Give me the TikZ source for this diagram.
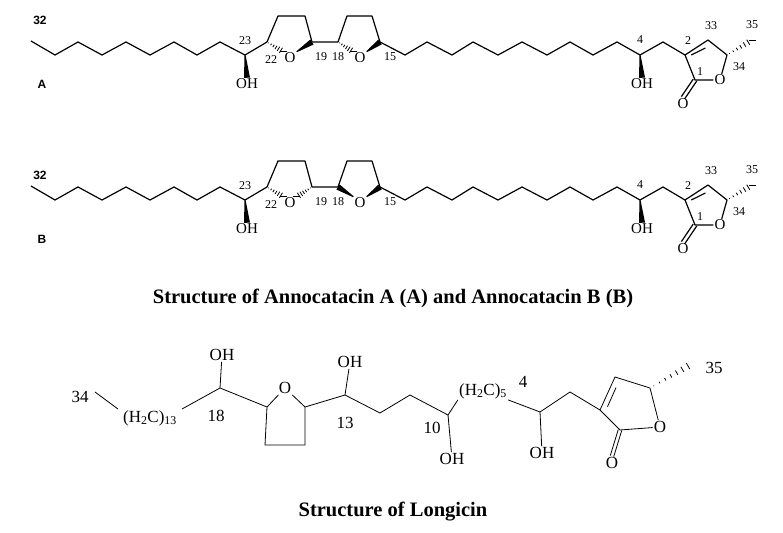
\documentclass[tikz,border=0pt]{standalone}
\usepackage{fontspec}
\setmainfont{Liberation Serif}
\setsansfont{Liberation Sans}
\usetikzlibrary{calc,positioning}
\tikzset{
  bond/.style={line width=1.2pt, line join=round},
  atom/.style={inner sep=1pt, font=\fontsize{15}{15}\selectfont},
  num/.style={inner sep=0pt, font=\fontsize{12}{12}\selectfont},
  lbl/.style={inner sep=0pt, font=\sffamily\bfseries\fontsize{12}{12}\selectfont},
  title/.style={inner sep=0pt, font=\bfseries\fontsize{20.5}{20.5}\selectfont}
}
% wedge and hash bonds
\newcommand\wedgeb[2]{\fill ($(#1)!0.5pt!90:(#2)$) -- ($(#1)!0.5pt!-90:(#2)$) -- ($(#2)!3pt!90:(#1)$) -- ($(#2)!3pt!-90:(#1)$) -- cycle;}
\newcommand\hashb[2]{\foreach \t in {0.1,0.25,...,1.0}{\draw[line width=0.8pt] ($($(#1)!\t!(#2)$)!{\t*3.5pt}!90:(#2)$) -- ($($(#1)!\t!(#2)$)!{\t*3.5pt}!-90:(#2)$);}}
\newcommand\annoskel{%
  \coordinate (c23) at (245,55); \coordinate (c22) at (267,42);
  \coordinate (c19) at (312,42); \coordinate (c18) at (338,42);
  \coordinate (c15) at (380,42); \coordinate (c4) at (640,55);
  \coordinate (c2) at (685,55); \coordinate (c33) at (708,40);
  \coordinate (c34) at (727,55); \coordinate (c1) at (695,80);
  \node[atom] (o1) at (290,58) {O};
  \node[atom] (o2) at (360,58) {O};
  \node[atom] (o3) at (720,80) {O};
  \node[atom] (o4) at (683,104) {O};
  \node[atom] (oh23) at (247,84) {OH};
  \node[atom] (oh4) at (642,84) {OH};
  \draw[bond] (31,41) -- (55,55) -- (78,42) -- (102,55) -- (126,42) -- (150,55)
    -- (174,42) -- (197,55) -- (220,42) -- (c23) -- (c22);
  \draw[bond] (c22) -- (278,16) -- (305,16) -- (c19) -- (c18) -- (347,16) -- (372,16) -- (c15);
  \draw[bond] (c15) -- (405,55) -- (427,42) -- (452,55) -- (473,42) -- (498,55) -- (522,42)
    -- (547,55) -- (570,42) -- (593,55) -- (617,42) -- (c4) -- (663,42) -- (c2);
  \draw[bond] (c2) -- (c33) -- (c34) -- (o3) -- (c1) -- (c2);
  \draw[bond] ($(c2)!0.15!(c34)$) -- ($(c33)!0.2!(c1)$);
  \draw[bond] ($(c1)!2pt!90:(o4)$) -- ($(o4.north)!2pt!-90:(c1)$);
  \draw[bond] ($(c1)!2pt!-90:(o4)$) -- ($(o4.north)!2pt!90:(c1)$);
  \wedgeb{c23}{oh23.north} \wedgeb{c4}{oh4.north}
  \hashb{c34}{752,40}
  \node[num] at (245,41) {23}; \node[num] at (271,60) {22};
  \node[num] at (321,57) {19}; \node[num] at (338,57) {18};
  \node[num] at (390,57) {15}; \node[num] at (640,40) {4};
  \node[num] at (688,41) {2}; \node[num] at (711,26) {33};
  \node[num] at (752,25) {35}; \node[num] at (739,67) {34};
  \node[num] at (700,72) {1};
}
\begin{document}
\begin{tikzpicture}[x=1pt,y=-1pt]
\useasboundingbox (0,0) rectangle (783,532);

% Annocatacin A
\annoskel
\node[lbl] at (40,20) {32};
\node[lbl] at (42,84) {A};
\hashb{c22}{o1.north west} \wedgeb{o1.north east}{c19}
\hashb{c18}{o2.north west} \wedgeb{o2.north east}{c15}

% Annocatacin B
\begin{scope}[yshift=-145pt]
\annoskel
\node[lbl] at (40,30) {32};
\node[lbl] at (42,94) {B};
\hashb{c22}{o1.north west} \hashb{c19}{o1.north east}
\wedgeb{o2.north west}{c18} \wedgeb{o2.north east}{c15}
\end{scope}

\node[title] (titleAB) at (393,298) {Structure of Annocatacin A (A) and Annocatacin B (B)};

% Longicin
\begin{scope}[every node/.style={inner sep=1pt, font=\fontsize{17}{17}\selectfont}]
\coordinate (l18) at (220,388); \coordinate (r1) at (267,407);
\coordinate (r2) at (305,407); \coordinate (r3) at (305,445);
\coordinate (r4) at (265,445); \coordinate (l13) at (345,395);
\coordinate (l10) at (448,415); \coordinate (l4) at (540,412);
\coordinate (m2) at (600,410); \coordinate (m3) at (615,377);
\coordinate (m4) at (650,388); \coordinate (m1) at (620,430);
\node (n34) at (80,397) {34};
\node (ch13) at (150,418) {(H\textsubscript{2}C)\textsubscript{13}};
\node (n18) at (216,416) {18};
\node (oh18) at (222,355) {OH};
\node (or) at (285,388) {O};
\node (n13) at (345,423) {13};
\node (oh13) at (350,362) {OH};
\node (n10) at (432,428) {10};
\node (oh10) at (452,459) {OH};
\node (ch5) at (483,391) {(H\textsubscript{2}C)\textsubscript{5}};
\node (n4) at (523,382) {4};
\node (oh4l) at (542,453) {OH};
\node (ol) at (660,427) {O};
\node (ool) at (612,463) {O};
\node (n35) at (714,368) {35};
\end{scope}
\draw[line width=0.8pt] (95,392) -- (118,409);
\draw[line width=0.8pt] (182,409) -- (l18) -- (r1) -- (or) -- (r2) -- (r3) -- (r4) -- (r1);
\draw[line width=0.8pt] (l18) -- (oh18);
\draw[line width=0.8pt] (r2) -- (l13) -- (380,413) -- (410,395) -- (l10) -- (ch5.south west);
\draw[line width=0.8pt] (l13) -- (oh13);
\draw[line width=0.8pt] (l10) -- (oh10);
\draw[line width=0.8pt] (ch5.south east) -- (l4) -- (570,392) -- (m2) -- (m3) -- (m4) -- (ol) -- (m1) -- (m2);
\draw[line width=0.8pt] (l4) -- (oh4l);
\draw[line width=0.8pt] ($(m2)!0.15!(m4)$) -- ($(m3)!0.2!(m1)$);
\draw[line width=0.8pt] ($(m1)!1.8pt!90:(ool)$) -- ($(ool.north)!1.8pt!-90:(m1)$);
\draw[line width=0.8pt] ($(m1)!1.8pt!-90:(ool)$) -- ($(ool.north)!1.8pt!90:(m1)$);
\hashb{m4}{688,366}

\node[title] (titleL) at (393,512) {Structure of Longicin};
\end{tikzpicture}
\end{document}
